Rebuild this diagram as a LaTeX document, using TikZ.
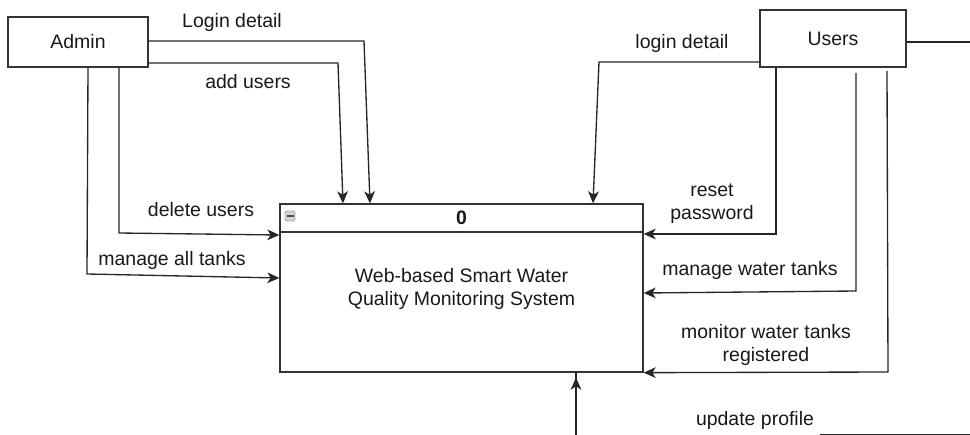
\documentclass[tikz,border=0pt]{standalone}
\usepackage{fontspec}
\setmainfont{Liberation Sans}
\usetikzlibrary{arrows.meta}
\begin{document}
\begin{tikzpicture}[x=0.75pt,y=-0.75pt,
  every node/.style={font=\fontsize{14.6}{17.3}\selectfont, text=black!90},
  entity/.style={draw=black!80, line width=1pt, inner sep=0pt},
  flow/.style={draw=black!85, line width=1pt, -{Stealth[length=9pt,width=8pt,inset=2.5pt]}},
  plain/.style={draw=black!85, line width=1pt},
  lbl/.style={align=center, inner sep=0pt}]
\useasboundingbox (0,0) rectangle (970,435);
% entities
\node[entity, minimum width=105pt, minimum height=37.5pt] (admin) at (78,42) {Admin};
\node[entity, minimum width=109.5pt, minimum height=42.75pt] (users) at (833,38.5) {Users};
\node[entity, minimum width=272.25pt, minimum height=126pt] (proc) at (461.5,288) {};
\draw[draw=black!80, line width=1pt] (proc.west |- 0,232) -- (proc.east |- 0,232);
\node[font=\bfseries\fontsize{14.6}{17.3}\selectfont] (pid) at (461.5,218) {0};
\node[lbl] (ptext) at (461.5,288.5) {Web-based Smart Water\\Quality Monitoring System};
% minus icon
\draw[draw=gray!70, fill=gray!35, rounded corners=1pt, line width=0.5pt] (285,211) rectangle (295,221);
\draw[draw=black!70, line width=1pt] (286.5,216) -- (293.5,216);
% admin flows
\draw[flow] (admin.east |- 0,41) -- (364,41) -- (proc.north -| 370,0);
\draw[flow] (admin.east |- 0,63) -- (338,63) -- (proc.north -| 343,0);
\draw[flow] (admin.south -| 119,0) -- (119,233) -- (proc.west |- 0,235);
\draw[flow] (admin.south -| 88,0) -- (87,274) -- (proc.west |- 0,278);
% users flows
\draw[flow] (users.west |- 0,62) -- (599,62) -- (proc.north -| 593,0);
\draw[flow] (users.south -| 776,0) -- (776,234) -- (proc.east |- 0,234);
\draw[flow] (856,73) -- (856,291) -- (proc.east |- 0,293);
\draw[flow] (887,71) -- (888,372) -- (proc.south east);
\draw[plain] (users.east |- 0,42) -- (970,42);
% update profile
\coordinate (upstart) at (576,436);
\draw[flow] (upstart) -- (proc.south -| 576,0) ++(0,5);
\coordinate (botstart) at (820,434.6);
\draw[plain] (botstart) -- (970,434.6);
% labels
\node[lbl] (l1) at (232,22) {Login detail};
\node[lbl] (l2) at (248,82) {add users};
\node[lbl] (l3) at (201,210) {delete users};
\node[lbl] (l4) at (172,260) {manage all tanks};
\node[lbl] (l5) at (682,43) {login detail};
\node[lbl] (l6) at (712,204) {reset\\password};
\node[lbl] (l7) at (750,270) {manage water tanks};
\node[lbl] (l8) at (766,345) {monitor water tanks\\registered};
\node[lbl] (l9) at (755,420) {update profile};
\end{tikzpicture}
\end{document}
